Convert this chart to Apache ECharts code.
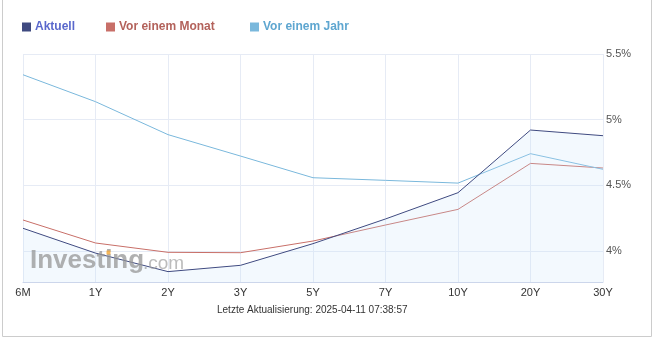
<!DOCTYPE html>
<html><head><meta charset="utf-8">
<script src="https://cdn.jsdelivr.net/npm/echarts@6/dist/echarts.min.js"></script>
<style>html,body{margin:0;padding:0;background:#fff}#c{width:655px;height:340px}</style>
</head><body><div id="c"></div>
<script>
const categories = ['6M','1Y','2Y','3Y','5Y','7Y','10Y','20Y','30Y'];
const aktuell = [4.173, 3.984, 3.843, 3.891, 4.056, 4.244, 4.444, 4.921, 4.878];
const vorMonat = [4.236, 4.061, 3.990, 3.987, 4.076, 4.198, 4.317, 4.667, 4.632];
const vorJahr = [5.342, 5.137, 4.886, 4.723, 4.558, 4.538, 4.517, 4.741, 4.622];
const yTicks = ['4%','4.5%','5%','5.5%'];
const footer = 'Letzte Aktualisierung: 2025-04-11 07:38:57';

const chart = echarts.init(document.getElementById('c'), null, {renderer:'canvas'});
const legendBase = {top: 16, itemWidth: 9, itemHeight: 9, icon: 'rect', itemGap: 5, selectedMode: false,
  textStyle: {fontFamily: 'Liberation Sans, Arial', fontSize: 12, fontWeight: 'bold', padding: [0,0,0,-1]}};
chart.setOption({
  animation: false,
  legend: [
    Object.assign({}, legendBase, {left: 17, data: ['Aktuell'], textStyle: Object.assign({}, legendBase.textStyle, {color: '#5a68cc'})}),
    Object.assign({}, legendBase, {left: 101, data: ['Vor einem Monat'], textStyle: Object.assign({}, legendBase.textStyle, {color: '#b3625b'})}),
    Object.assign({}, legendBase, {left: 245, data: ['Vor einem Jahr'], textStyle: Object.assign({}, legendBase.textStyle, {color: '#5ea6d0'})})
  ],
  grid: {left: 23, right: 52, top: 54, bottom: 58},
  xAxis: {
    type: 'category', data: categories, boundaryGap: false,
    axisLine: {lineStyle: {color: '#ccd6eb'}},
    axisTick: {show: false},
    axisLabel: {color: '#333', fontFamily: 'Liberation Sans, Arial', fontSize: 11, margin: 5},
    splitLine: {show: true, lineStyle: {color: '#e6ebf5'}}
  },
  yAxis: {
    type: 'value', position: 'right', min: 3.764, max: 5.5, minInterval: 0.5, maxInterval: 0.5,
    axisLine: {show: false}, axisTick: {show: false},
    axisLabel: {color: '#555', fontFamily: 'Liberation Sans, Arial', fontSize: 11, margin: 3, showMinLabel: false,
      padding: [3,0,0,0],
      formatter: v => { const s = yTicks.find(t => parseFloat(t) === Math.round(v*10)/10); return s || ''; }},
    splitLine: {lineStyle: {color: '#e6ebf5'}}
  },
  graphic: [
    {type: 'rect', shape: {x: 2.5, y: -5, width: 649, height: 341.5}, style: {fill: 'none', stroke: '#cccccc', lineWidth: 1}, silent: true},
    {type: 'text', left: 30, top: 248, z: 100, style: {text: 'Investing', fill: 'rgba(150,150,150,0.75)', font: 'bold 26px "Liberation Sans", Arial'}},
    {type: 'text', left: 143, top: 254, z: 100, style: {text: '.com', fill: 'rgba(160,160,160,0.7)', font: '19px "Liberation Sans", Arial'}},
    {type: 'rect', shape: {x: 106.5, y: 250.5, width: 4, height: 4}, style: {fill: 'rgba(245,170,60,0.85)'}, z: 101},
    {type: 'text', left: 217, top: 305, style: {text: footer, fill: '#333', font: '10px "Liberation Sans", Arial'}}
  ],
  series: [
    {name: 'Aktuell', type: 'line', data: aktuell, symbol: 'none', lineStyle: {color: '#3f4a80', width: 1}, itemStyle: {color: '#3f4a80'},
      areaStyle: {color: 'rgba(200,225,250,0.3)'}, z: 3},
    {name: 'Vor einem Monat', type: 'line', data: vorMonat, symbol: 'none', lineStyle: {color: '#c86f68', width: 1}, itemStyle: {color: '#c86f68'}, z: 2},
    {name: 'Vor einem Jahr', type: 'line', data: vorJahr, symbol: 'none', lineStyle: {color: '#7ab8dc', width: 1}, itemStyle: {color: '#7ab8dc'}, z: 2}
  ]
});
</script></body></html>
